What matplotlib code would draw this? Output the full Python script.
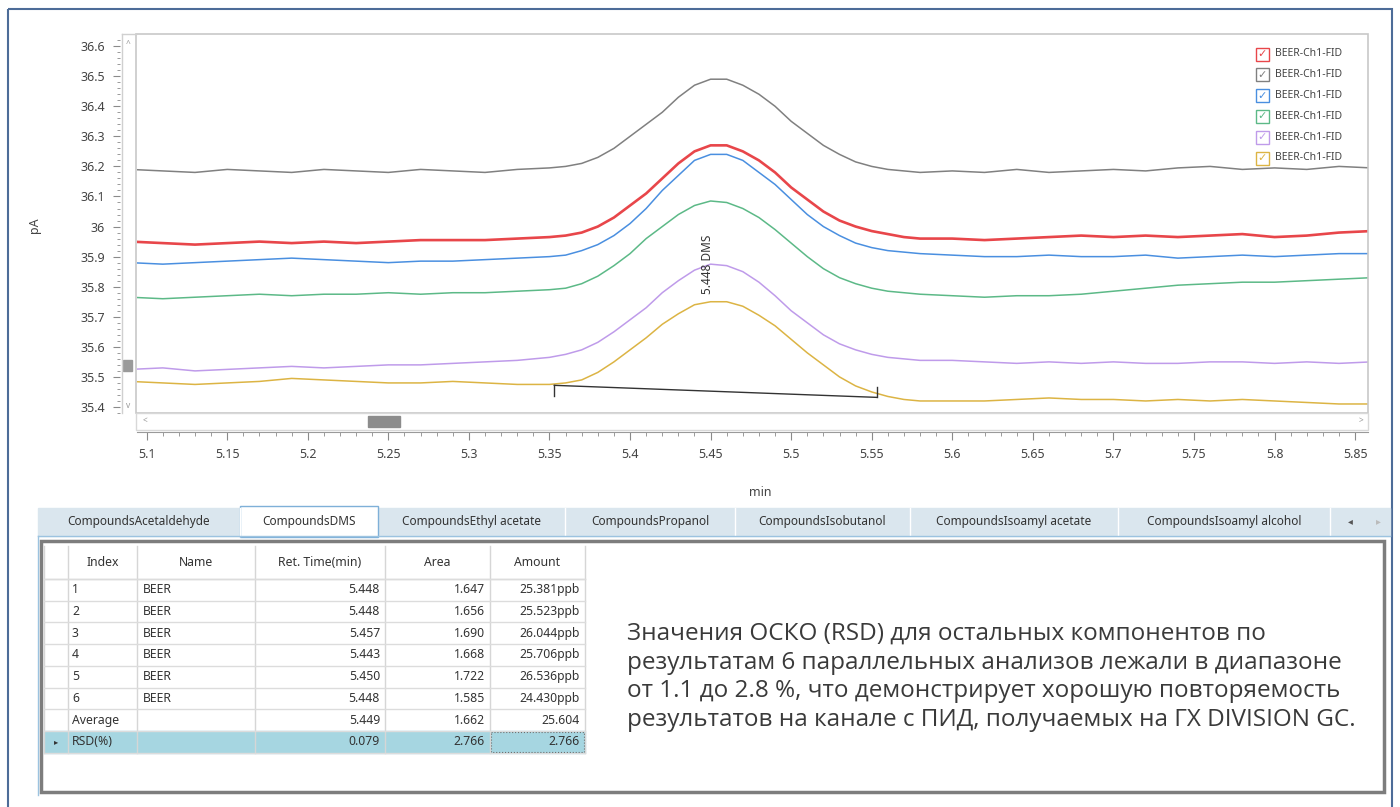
import numpy as np
import matplotlib.pyplot as plt
from matplotlib.patches import Rectangle
from matplotlib.ticker import MultipleLocator, FormatStrFormatter

# retention time grid (min): coarser on the baseline, finer over the peak
t = [5.09, 5.11, 5.13, 5.15, 5.17, 5.19, 5.21, 5.23, 5.25, 5.27, 5.29, 5.31, 5.33,
     5.35, 5.36, 5.37, 5.38, 5.39, 5.40, 5.41, 5.42, 5.43, 5.44, 5.45, 5.46,
     5.47, 5.48, 5.49, 5.50, 5.51, 5.52, 5.53, 5.54, 5.55, 5.56, 5.57, 5.58,
     5.60, 5.62, 5.64, 5.66, 5.68, 5.70, 5.72, 5.74, 5.76, 5.78, 5.80, 5.82, 5.84, 5.86]

# signal (pA) of the 6 runs
red = [35.95, 35.945, 35.94, 35.945, 35.95, 35.945, 35.95, 35.945, 35.95, 35.955, 35.955, 35.955, 35.96,
       35.965, 35.97, 35.98, 36.0, 36.03, 36.07, 36.11, 36.16, 36.21, 36.25, 36.27, 36.27,
       36.25, 36.22, 36.18, 36.13, 36.09, 36.05, 36.02, 36.0, 35.985, 35.975, 35.965, 35.96,
       35.96, 35.955, 35.96, 35.965, 35.97, 35.965, 35.97, 35.965, 35.97, 35.975, 35.965, 35.97, 35.98, 35.985]
gray = [36.19, 36.185, 36.18, 36.19, 36.185, 36.18, 36.19, 36.185, 36.18, 36.19, 36.185, 36.18, 36.19,
        36.195, 36.2, 36.21, 36.23, 36.26, 36.3, 36.34, 36.38, 36.43, 36.47, 36.49, 36.49,
        36.47, 36.44, 36.40, 36.35, 36.31, 36.27, 36.24, 36.215, 36.2, 36.19, 36.185, 36.18,
        36.185, 36.18, 36.19, 36.18, 36.185, 36.19, 36.185, 36.195, 36.2, 36.19, 36.195, 36.19, 36.2, 36.195]
blue = [35.88, 35.875, 35.88, 35.885, 35.89, 35.895, 35.89, 35.885, 35.88, 35.885, 35.885, 35.89, 35.895,
        35.9, 35.905, 35.92, 35.94, 35.97, 36.01, 36.06, 36.12, 36.17, 36.22, 36.24, 36.24,
        36.22, 36.18, 36.14, 36.09, 36.04, 36.0, 35.97, 35.945, 35.93, 35.92, 35.915, 35.91,
        35.905, 35.9, 35.9, 35.905, 35.9, 35.9, 35.905, 35.895, 35.9, 35.905, 35.9, 35.905, 35.91, 35.91]
green = [35.765, 35.76, 35.765, 35.77, 35.775, 35.77, 35.775, 35.775, 35.78, 35.775, 35.78, 35.78, 35.785,
         35.79, 35.795, 35.81, 35.835, 35.87, 35.91, 35.96, 36.0, 36.04, 36.07, 36.085, 36.08,
         36.06, 36.03, 35.99, 35.945, 35.90, 35.86, 35.83, 35.81, 35.795, 35.785, 35.78, 35.775,
         35.77, 35.765, 35.77, 35.77, 35.775, 35.785, 35.795, 35.805, 35.81, 35.815, 35.815, 35.82, 35.825, 35.83]
purple = [35.525, 35.53, 35.52, 35.525, 35.53, 35.535, 35.53, 35.535, 35.54, 35.54, 35.545, 35.55, 35.555,
          35.565, 35.575, 35.59, 35.615, 35.65, 35.69, 35.73, 35.78, 35.82, 35.855, 35.875, 35.87,
          35.85, 35.815, 35.77, 35.72, 35.68, 35.64, 35.61, 35.59, 35.575, 35.565, 35.56, 35.555,
          35.555, 35.55, 35.545, 35.55, 35.545, 35.55, 35.545, 35.545, 35.55, 35.55, 35.545, 35.55, 35.545, 35.55]
yellow = [35.485, 35.48, 35.475, 35.48, 35.485, 35.495, 35.49, 35.485, 35.48, 35.48, 35.485, 35.48, 35.475,
          35.475, 35.48, 35.49, 35.515, 35.55, 35.59, 35.63, 35.675, 35.71, 35.74, 35.75, 35.75,
          35.735, 35.705, 35.67, 35.625, 35.58, 35.54, 35.5, 35.47, 35.45, 35.435, 35.425, 35.42,
          35.42, 35.42, 35.425, 35.43, 35.425, 35.425, 35.42, 35.425, 35.42, 35.425, 35.42, 35.415, 35.41, 35.41]

series = [red, gray, blue, green, purple, yellow]
series_colors = ['#e8464a', '#808080', '#4a8fe0', '#5cb987', '#bf9bea', '#dcb444']
series_names = ['BEER-Ch1-FID'] * 6

# integration baseline of the DMS peak (yellow run)
base_t = [5.353, 5.553]
base_y = [35.472, 35.432]
peak_rt = 5.448
peak_label = '5.448 DMS'

# table
tabs = ['CompoundsAcetaldehyde', 'CompoundsDMS', 'CompoundsEthyl acetate',
        'CompoundsPropanol', 'CompoundsIsobutanol', 'CompoundsIsoamyl acetate',
        'CompoundsIsoamyl alcohol']
col_names = ['Index', 'Name', 'Ret. Time(min)', 'Area', 'Amount']
idx = ['1', '2', '3', '4', '5', '6', 'Average', 'RSD(%)']
names = ['BEER'] * 6 + ['', '']
ret_time = ['5.448', '5.448', '5.457', '5.443', '5.450', '5.448', '5.449', '0.079']
area = ['1.647', '1.656', '1.690', '1.668', '1.722', '1.585', '1.662', '2.766']
amount = ['25.381ppb', '25.523ppb', '26.044ppb', '25.706ppb', '26.536ppb',
          '24.430ppb', '25.604', '2.766']

note = ['Значения ОСКО (RSD) для остальных компонентов по',
        'результатам 6 параллельных анализов лежали в диапазоне',
        'от 1.1 до 2.8 %, что демонстрирует хорошую повторяемость',
        'результатов на канале с ПИД, получаемых на ГХ DIVISION GC.']

plt.rcParams['font.family'] = ['Noto Sans', 'DejaVu Sans']
W, H = 1400, 807
fig = plt.figure(figsize=(W / 100, H / 100), dpi=100)


def box(x0, y0, x1, y1):
    return [x0 / W, 1 - y1 / H, (x1 - x0) / W, (y1 - y0) / H]


# chromatogram
ax = fig.add_axes(box(137, 35, 1368, 413))
for ys, c in zip(series, series_colors):
    ax.plot(t, ys, color=c, lw=1.9 if c == '#e8464a' else 1.1)
ax.plot(base_t, base_y, color='#333333', lw=1)
ax.plot([base_t[0]] * 2, [base_y[0], base_y[0] - 0.035], color='#333333', lw=1)
ax.plot([base_t[1]] * 2, [base_y[1], base_y[1] + 0.035], color='#333333', lw=1)
ax.text(peak_rt, 35.775, peak_label, rotation=90, ha='center', va='bottom',
        fontsize=8.5, color='#333333')

ax.set_xlim(5.094, 5.858)
ax.set_ylim(35.38, 36.637)
ax.xaxis.set_major_locator(MultipleLocator(0.05))
ax.xaxis.set_minor_locator(MultipleLocator(0.01))
ax.yaxis.set_major_locator(MultipleLocator(0.1))
ax.yaxis.set_minor_locator(MultipleLocator(0.02))
ax.xaxis.set_major_formatter(FormatStrFormatter('%g'))
ax.yaxis.set_major_formatter(FormatStrFormatter('%g'))
for s in ['top', 'right']:
    ax.spines[s].set_visible(False)
ax.spines['bottom'].set_position(('outward', 14))
ax.spines['left'].set_position(('outward', 12))
ax.spines['bottom'].set_color('#9a9a9a')
ax.spines['left'].set_color('none')
ax.tick_params(which='both', colors='#8a8a8a', labelcolor='#444444', labelsize=9)
ax.tick_params(axis='x', which='major', length=6, pad=5)
ax.tick_params(axis='x', which='minor', length=3)
ax.tick_params(axis='y', which='major', length=5, pad=6)
ax.tick_params(axis='y', which='minor', length=2)

# decorations and table, drawn in pixel units on a transparent overlay
ov = fig.add_axes([0, 0, 1, 1])
ov.set_xlim(0, W)
ov.set_ylim(H, 0)
ov.axis('off')
ov.patch.set_alpha(0)

ov.add_patch(Rectangle((8, 9), 1384, 830, fill=False, ec='#4d6c98', lw=1.5))
ov.add_patch(Rectangle((136, 34), 1232, 379, fill=False, ec='#c8c8c8', lw=1.2))
ov.plot([122, 122], [34, 413], color='#d0d0d0', lw=1)
ov.plot([122, 136], [34, 34], color='#d0d0d0', lw=1)
ov.text(128, 44, '^', ha='center', va='center', fontsize=6, color='#999999')
ov.text(128, 405, 'v', ha='center', va='center', fontsize=6, color='#999999')
ov.add_patch(Rectangle((123, 360), 9, 11, color='#9a9a9a'))
ov.add_patch(Rectangle((136, 413), 1232, 17, fill=False, ec='#d8d8d8', lw=1))
ov.text(145, 421, '<', ha='center', va='center', fontsize=6, color='#999999')
ov.text(1361, 421, '>', ha='center', va='center', fontsize=6, color='#999999')
ov.add_patch(Rectangle((368, 416), 32, 11, color='#8c8c8c'))
ov.text(35, 225, 'pA', rotation=90, ha='center', va='center', fontsize=9, color='#444444')
ov.text(760, 493, 'min', ha='center', va='center', fontsize=9, color='#444444')

# legend with check boxes
for i, (name, c) in enumerate(zip(series_names, series_colors)):
    yc = 54 + i * 20.8
    ov.add_patch(Rectangle((1256, yc - 6.5), 13, 13, fill=False, ec=c, lw=1))
    ov.text(1262.5, yc, '✓', ha='center', va='center', fontsize=8, color=c,
            family='DejaVu Sans', fontweight='bold')
    ov.text(1275, yc, name, ha='left', va='center', fontsize=7.5, color='#444444')

# tab strip
tab_edges = [38, 240, 378, 565, 735, 910, 1118, 1330]
ov.add_patch(Rectangle((38, 508), 1352, 28, color='#dae6ee'))
for i, name in enumerate(tabs):
    x0, x1 = tab_edges[i], tab_edges[i + 1]
    if i == 1:
        ov.add_patch(Rectangle((x0, 506), x1 - x0, 31, fc='white', ec='#7fb0d8', lw=1))
    else:
        ov.plot([x1, x1], [508, 536], color='white', lw=1)
    ov.text((x0 + x1) / 2, 522, name, ha='center', va='center', fontsize=8.5, color='#333333')
ov.text(1350, 521, '◂', ha='center', va='center', fontsize=7, color='#555555', family='DejaVu Sans')
ov.text(1378, 521, '▸', ha='center', va='center', fontsize=7, color='#bbbbbb', family='DejaVu Sans')
ov.plot([38, 1390], [536, 536], color='#9cc3e0', lw=1)
ov.plot([38, 38], [536, 795], color='#9cc3e0', lw=1)

# data grid
ov.add_patch(Rectangle((41, 541), 1343, 251, fill=False, ec='#7d7d7d', lw=2.5))
cols = [44, 68, 137, 255, 385, 490, 585]
top, head_bot, rh = 546, 579, 21.7
n = len(idx)
bottom = head_bot + n * rh
ov.add_patch(Rectangle((44, head_bot + (n - 1) * rh), 541, rh, color='#a6d6e1'))
for x in cols:
    ov.plot([x, x], [top, bottom], color='#d6d6d6', lw=1)
ov.plot([44, 585], [head_bot, head_bot], color='#d6d6d6', lw=1)
for r in range(n + 1):
    y = head_bot + r * rh
    ov.plot([44, 585], [y, y], color='#dcdcdc', lw=1)
for j, name in enumerate(col_names):
    ov.text((cols[j + 1] + cols[j + 2]) / 2, 563, name, ha='center', va='center',
            fontsize=8.8, color='#333333')
for r in range(n):
    yc = head_bot + (r + 0.5) * rh
    ov.text(72, yc, idx[r], ha='left', va='center', fontsize=8.8, color='#333333')
    ov.text(143, yc, names[r], ha='left', va='center', fontsize=8.8, color='#333333')
    ov.text(380, yc, ret_time[r], ha='right', va='center', fontsize=8.8, color='#333333')
    ov.text(485, yc, area[r], ha='right', va='center', fontsize=8.8, color='#333333')
    ov.text(580, yc, amount[r], ha='right', va='center', fontsize=8.8, color='#333333')
ov.text(56, head_bot + (n - 0.5) * rh, '▸', ha='center', va='center', fontsize=6,
        color='#333333', family='DejaVu Sans')
ov.add_patch(Rectangle((491, head_bot + (n - 1) * rh + 1), 93, rh - 2, fill=False,
                       ec='#555555', lw=0.8, ls=':'))

for i, line in enumerate(note):
    ov.text(627, 634 + i * 28.7, line, ha='left', va='center', fontsize=17.5,
            color='#3a3a3a', family='Open Sans')

fig.savefig('out.png', dpi=100)
